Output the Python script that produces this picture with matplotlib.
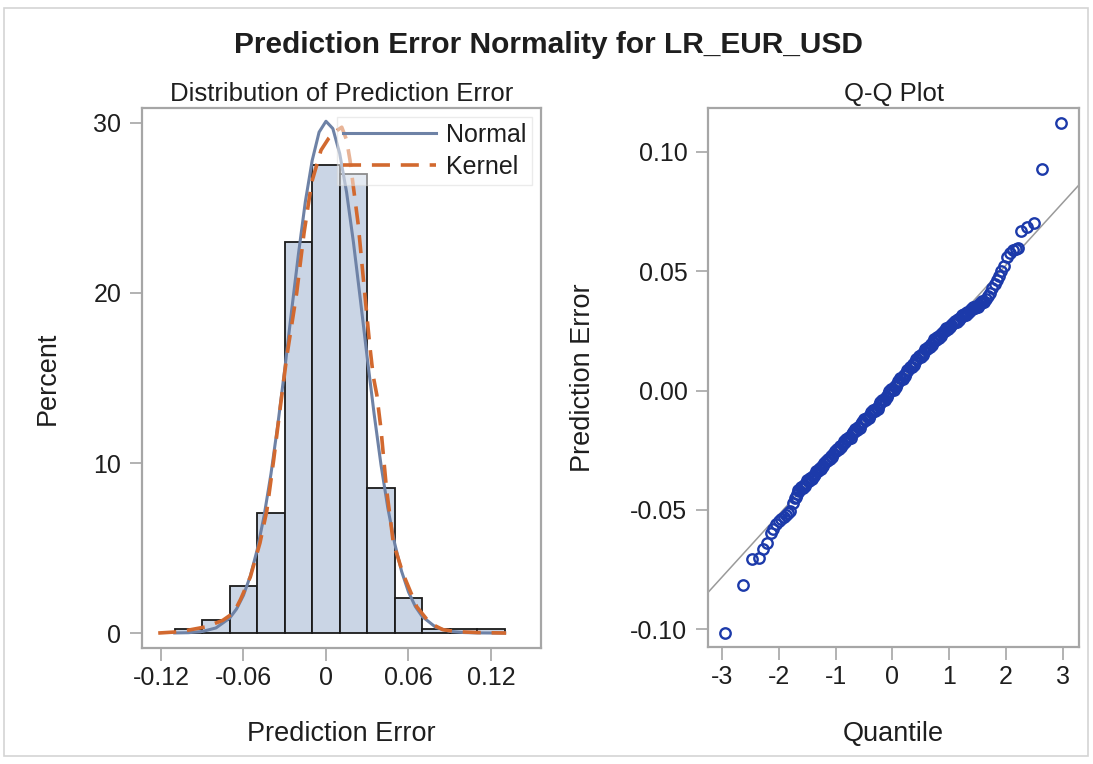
import numpy as np
import matplotlib
matplotlib.use('Agg')
import matplotlib.pyplot as plt
from matplotlib.patches import Rectangle

plt.rcParams['font.family'] = ['Liberation Sans', 'DejaVu Sans']
plt.rcParams['axes.unicode_minus'] = False

# histogram of prediction error (percent per bin)
bin_edges = [-0.11, -0.09, -0.07, -0.05, -0.03, -0.01, 0.01, 0.03, 0.05, 0.07, 0.09, 0.11, 0.13]
bin_percent = [0.25, 0.75, 2.75, 7.05, 23.0, 27.5, 27.0, 8.55, 2.05, 0.25, 0.25, 0.25]

# fitted normal curve
norm_x = [-0.11, -0.10, -0.09, -0.08, -0.07, -0.065, -0.06, -0.055, -0.05, -0.045,
          -0.04, -0.035, -0.03, -0.025, -0.02, -0.015, -0.01, -0.005, 0.0, 0.005,
          0.01, 0.015, 0.02, 0.025, 0.03, 0.035, 0.04, 0.045, 0.05, 0.055,
          0.06, 0.065, 0.07, 0.08, 0.09, 0.10, 0.11, 0.12, 0.13]
norm_y = [0.005, 0.02, 0.09, 0.30, 0.88, 1.42, 2.22, 3.36, 4.90, 6.89,
          9.36, 12.27, 15.5, 18.95, 22.3, 25.37, 27.8, 29.46, 30.1, 29.67,
          28.2, 25.92, 22.97, 19.63, 16.2, 12.9, 9.91, 7.35, 5.26, 3.63,
          2.42, 1.56, 0.97, 0.33, 0.10, 0.03, 0.008, 0.002, 0.0005]

# kernel density curve
kern_x = [-0.122, -0.106, -0.087, -0.075, -0.067, -0.062, -0.055, -0.048, -0.043, -0.038,
          -0.0335, -0.0286, -0.0213, -0.016, -0.0104, -0.0036, 0.002, 0.007, 0.0115, 0.015,
          0.0175, 0.020, 0.0235, 0.027, 0.0296, 0.032, 0.0344, 0.037, 0.040, 0.044,
          0.049, 0.056, 0.066, 0.0756, 0.085, 0.095, 0.11, 0.131]
kern_y = [0.0, 0.08, 0.37, 0.75, 1.2, 2.0, 3.3, 5.3, 7.2, 10.2,
          13.1, 16.2, 20.0, 23.5, 26.5, 28.4, 29.1, 29.5, 29.75, 29.0,
          27.8, 26.2, 24.0, 21.0, 18.8, 16.8, 15.1, 14.0, 12.0, 8.5,
          5.3, 3.5, 1.55, 0.58, 0.2, 0.08, 0.03, 0.0]

# Q-Q plot: normal quantile vs sorted prediction error
quantile = [-2.95, -2.64, -2.48, -2.36, -2.28, -2.21, -2.15, -2.10, -2.05, -2.00,
            -1.96, -1.92, -1.88, -1.84, -1.80, -1.76, -1.72, -1.68, -1.64, -1.60,
            -1.56, -1.52, -1.48, -1.44, -1.40, -1.36, -1.32, -1.28, -1.24, -1.20,
            -1.16, -1.12, -1.08, -1.04, -1.00, -0.96, -0.92, -0.88, -0.84, -0.80,
            -0.76, -0.72, -0.68, -0.64, -0.60, -0.56, -0.52, -0.48, -0.44, -0.40,
            -0.36, -0.32, -0.28, -0.24, -0.20, -0.16, -0.12, -0.08, -0.04, 0.00,
            0.04, 0.08, 0.12, 0.16, 0.20, 0.24, 0.28, 0.32, 0.36, 0.40,
            0.44, 0.48, 0.52, 0.56, 0.60, 0.64, 0.68, 0.72, 0.76, 0.80,
            0.84, 0.88, 0.92, 0.96, 1.00, 1.04, 1.08, 1.12, 1.16, 1.20,
            1.24, 1.28, 1.32, 1.36, 1.40, 1.44, 1.48, 1.52, 1.56, 1.60,
            1.64, 1.68, 1.72, 1.76, 1.80, 1.84, 1.88, 1.92, 1.96, 2.02,
            2.07, 2.12, 2.17, 2.22, 2.27, 2.38, 2.49, 2.64, 2.97]
error = [-0.1017, -0.0813, -0.0706, -0.0700, -0.0665, -0.0640, -0.0595, -0.0580, -0.0560, -0.0545,
         -0.0540, -0.0528, -0.0520, -0.0513, -0.0506, -0.0470, -0.0452, -0.0432, -0.0419, -0.0408,
         -0.0397, -0.0387, -0.0378, -0.0368, -0.0357, -0.0349, -0.0338, -0.0326, -0.0315, -0.0305,
         -0.0296, -0.0287, -0.0276, -0.0265, -0.0254, -0.0243, -0.0232, -0.0223, -0.0214, -0.0203,
         -0.0193, -0.0184, -0.0175, -0.0165, -0.0154, -0.0142, -0.0131, -0.0120, -0.0110, -0.0101,
         -0.0092, -0.0083, -0.0073, -0.0062, -0.0050, -0.0038, -0.0027, -0.0015, -0.0004, 0.0006,
         0.0017, 0.0028, 0.0040, 0.0052, 0.0063, 0.0074, 0.0086, 0.0098, 0.0110, 0.0121,
         0.0133, 0.0143, 0.0153, 0.0163, 0.0173, 0.0183, 0.0193, 0.0203, 0.0213, 0.0222,
         0.0231, 0.0240, 0.0249, 0.0258, 0.0266, 0.0274, 0.0282, 0.0290, 0.0298, 0.0306,
         0.0313, 0.0320, 0.0327, 0.0334, 0.0340, 0.0346, 0.0352, 0.0358, 0.0365, 0.0372,
         0.0382, 0.0395, 0.0410, 0.0428, 0.0445, 0.0462, 0.0480, 0.0500, 0.0522, 0.0560,
         0.0578, 0.0588, 0.0592, 0.0598, 0.0668, 0.0686, 0.0703, 0.0927, 0.1121]

# more points of the dense band (scatter around the fitted line)
quantile_b = [-1.70, -1.62, -1.54, -1.46, -1.38, -1.30, -1.22, -1.14, -1.06, -0.98,
              -0.90, -0.82, -0.74, -0.66, -0.58, -0.50, -0.42, -0.34, -0.26, -0.18,
              -0.10, -0.02, 0.06, 0.14, 0.22, 0.30, 0.38, 0.46, 0.54, 0.62,
              0.70, 0.78, 0.86, 0.94, 1.02, 1.10, 1.18, 1.26, 1.34, 1.42,
              1.50, 1.58]
error_b = [-0.0448, -0.0405, -0.0399, -0.0366, -0.0360, -0.0327, -0.0318, -0.0286, -0.0278, -0.0243,
           -0.0236, -0.0202, -0.0197, -0.0163, -0.0157, -0.0120, -0.0114, -0.0082, -0.0076, -0.0038,
           -0.0029, 0.0008, 0.0016, 0.0052, 0.0060, 0.0098, 0.0108, 0.0143, 0.0149, 0.0184,
           0.0190, 0.0223, 0.0229, 0.0260, 0.0264, 0.0293, 0.0297, 0.0322, 0.0325, 0.0348,
           0.0350, 0.0374]
quantile_c = [-1.66, -1.58, -1.50, -1.42, -1.34, -1.26, -1.18, -1.10, -1.02, -0.94,
              -0.86, -0.78, -0.70, -0.62, -0.54, -0.46, -0.38, -0.30, -0.22, -0.14,
              -0.06, 0.02, 0.10, 0.18, 0.26, 0.34, 0.42, 0.50, 0.58, 0.66,
              0.74, 0.82, 0.90, 0.98, 1.06, 1.14, 1.22, 1.30, 1.38, 1.46,
              1.54, 1.62]
error_c = [-0.0418, -0.0409, -0.0376, -0.0369, -0.0337, -0.0327, -0.0294, -0.0288, -0.0253, -0.0244,
           -0.0212, -0.0205, -0.0173, -0.0166, -0.0130, -0.0122, -0.0090, -0.0085, -0.0049, -0.0040,
           -0.0003, 0.0004, 0.0041, 0.0050, 0.0087, 0.0097, 0.0134, 0.0141, 0.0175, 0.0181,
           0.0215, 0.0220, 0.0251, 0.0256, 0.0284, 0.0289, 0.0315, 0.0318, 0.0342, 0.0344,
           0.0366, 0.0372]

# reference line (mean, std)
ref_intercept = 0.0003
ref_slope = 0.0261

hist_ticks = [-0.12, -0.06, 0, 0.06, 0.12]
hist_ticklabels = ['-0.12', '-0.06', '0', '0.06', '0.12']

spine_col = '#A6A6A6'
text_col = '#1E1E1E'
qq_col = '#1C3AAA'

fig = plt.figure(figsize=(10.93, 7.64), dpi=100)
fig.patches.append(Rectangle((4 / 1093, 1 - 756 / 764), 1084 / 1093, 748 / 764,
                             transform=fig.transFigure, fill=False,
                             edgecolor='#D4D4D4', linewidth=1.2))
fig.text(548 / 1093, 1 - 45 / 764, 'Prediction Error Normality for LR_EUR_USD',
         ha='center', va='center', fontsize=21.5, fontweight='bold', color=text_col)

ax1 = fig.add_axes([142 / 1093, 1 - 648 / 764, 399 / 1093, 540 / 764])
ax2 = fig.add_axes([708.3 / 1093, 1 - 646.7 / 764, 370.7 / 1093, 538.4 / 764])

# 1. histogram panel
widths = np.diff(bin_edges)
ax1.bar(bin_edges[:-1], bin_percent, width=widths, align='edge',
        color='#CAD5E5', edgecolor='#1A1A1A', linewidth=1.3, zorder=2)
ax1.plot(norm_x, norm_y, color='#6E82A6', linewidth=2.2, label='Normal', zorder=3)
ax1.plot(kern_x, kern_y, color='#D2692F', linewidth=2.6, linestyle=(0, (5, 3)),
         label='Kernel', zorder=4)
ax1.set_xlim(-0.1338, 0.1564)
ax1.set_ylim(-0.88, 30.88)
ax1.set_xticks(hist_ticks)
ax1.set_xticklabels(hist_ticklabels)
ax1.set_yticks([0, 10, 20, 30])
ax1.set_title('Distribution of Prediction Error', fontsize=18.5, pad=5, color=text_col)
ax1.set_xlabel('Prediction Error', fontsize=19.5, color=text_col)
ax1.set_ylabel('Percent', fontsize=19.5, color=text_col)
ax1.xaxis.set_label_coords(0.5, -0.136)
ax1.yaxis.set_label_coords(-0.203, 0.5)
leg = ax1.legend(loc='upper right', fontsize=18, handlelength=3.7, handletextpad=0.4,
                 borderaxespad=0.35, borderpad=0.25, labelspacing=0.32,
                 frameon=True, fancybox=False, framealpha=0.5, edgecolor='#D8D8D8')
leg.get_frame().set_linewidth(1.0)
for t in leg.get_texts():
    t.set_color(text_col)

# 2. Q-Q panel
ax2.axline((0, ref_intercept), slope=ref_slope, color='#9A9A9A', linewidth=1.1, zorder=1)
for qx, qy in ((quantile_b, error_b), (quantile_c, error_c), (quantile, error)):
    ax2.plot(qx, qy, linestyle='none', marker='o', markersize=7.5,
             markerfacecolor='none', markeredgecolor=qq_col, markeredgewidth=1.7, zorder=2)
ax2.set_xlim(-3.247, 3.288)
ax2.set_ylim(-0.1073, 0.1182)
ax2.set_xticks([-3, -2, -1, 0, 1, 2, 3])
ax2.set_yticks([-0.10, -0.05, 0.00, 0.05, 0.10])
ax2.set_yticklabels(['-0.10', '-0.05', '0.00', '0.05', '0.10'])
ax2.set_title('Q-Q Plot', fontsize=18.5, pad=5, color=text_col)
ax2.set_xlabel('Quantile', fontsize=19.5, color=text_col)
ax2.set_ylabel('Prediction Error', fontsize=19.5, color=text_col)
ax2.xaxis.set_label_coords(0.5, -0.138)
ax2.yaxis.set_label_coords(-0.303, 0.5)

for ax in (ax1, ax2):
    for s in ax.spines.values():
        s.set_color(spine_col)
        s.set_linewidth(1.6)
    ax.tick_params(axis='both', direction='out', length=9, width=1.2,
                   colors=spine_col, labelcolor=text_col, labelsize=18)
    ax.tick_params(axis='x', pad=4)
    ax.tick_params(axis='y', pad=6)

fig.savefig('out.png', dpi=100)
